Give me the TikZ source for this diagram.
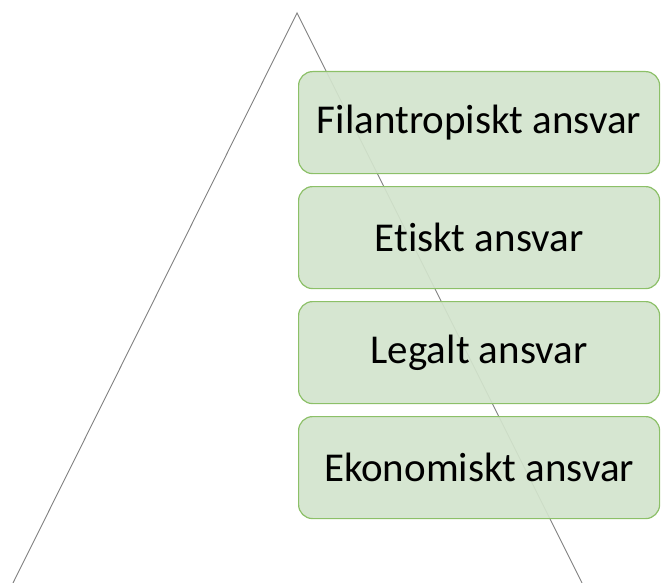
\documentclass[tikz,border=0pt]{standalone}
\usepackage{fontspec}
\setmainfont[Ligatures=NoCommon]{Carlito}
\definecolor{boxfill}{HTML}{D3E4CD}
\definecolor{boxline}{HTML}{8CC068}
\definecolor{edge}{HTML}{808080}
\begin{document}
\begin{tikzpicture}[x=1pt,y=-1pt,
  level/.style={draw=boxline, line width=1.2pt, fill=boxfill, fill opacity=0.92,
    text opacity=1, rounded corners=14pt, minimum width=361pt, minimum height=102pt,
    inner sep=0pt, font=\fontsize{41}{48}\selectfont, anchor=north west},
  side/.style={draw=edge, line width=0.9pt}]
\useasboundingbox (0,0) rectangle (661,583);
% pyramid outline
\coordinate (apex) at (297,13);
\coordinate (bl) at (13,583);
\coordinate (br) at (582,583);
\draw[side] (bl) -- (apex) -- (br);
% responsibility levels
\node[level] (fil) at (298,71) {Filantropiskt ansvar};
\node[level] (eti) at (298,186) {Etiskt ansvar};
\node[level] (leg) at (298,301) {Legalt ansvar};
\node[level] (eko) at (298,416) {Ekonomiskt ansvar};
\end{tikzpicture}
\end{document}
